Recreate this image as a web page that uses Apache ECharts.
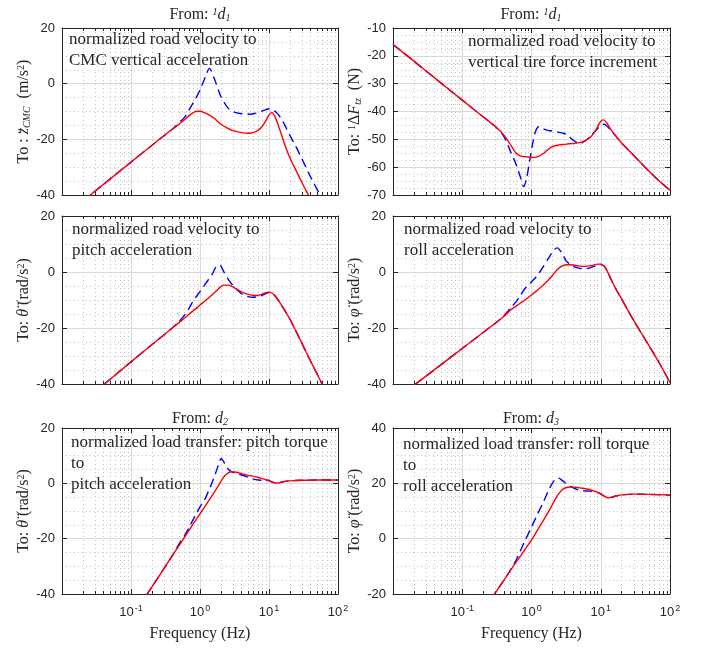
<!DOCTYPE html>
<html>
<head>
<meta charset="utf-8">
<script src="https://cdn.jsdelivr.net/npm/echarts@6/dist/echarts.min.js"></script>
<style>
html, body { margin: 0; padding: 0; background: #fff; }
#chart { width: 705px; height: 652px; }
</style>
</head>
<body>
<div id="chart"></div>
<script>
// ---- data (frequency in Hz, magnitude) ----
const p1Freq = [0.02, 0.05, 0.1, 0.2, 0.3, 0.4, 0.5, 0.6, 0.7, 0.8, 0.9, 1.0, 1.2, 1.37, 1.6, 2, 2.5, 3, 4, 5, 6, 7, 8, 9, 10, 11, 12, 13, 15, 17, 20, 25, 30, 40, 55, 70, 100];
const p1Red  = [-42.2, -34.2, -28.2, -22.2, -18.7, -16.3, -14.5, -12.9, -11.4, -10.4, -9.9, -9.9, -10.6, -11.3, -12.4, -14.6, -16.0, -16.9, -17.6, -17.8, -17.5, -16.7, -15.3, -13.3, -11.2, -10.3, -11.5, -13.5, -18.0, -22.0, -26.5, -31.5, -35.5, -41.5, -48.5, -54, -61];
const p1Blue = [-42.2, -34.2, -28.2, -22.2, -18.7, -16.3, -14.0, -12.0, -9.2, -6.8, -4.5, -2.3, 2.5, 5.5, 2.0, -4.5, -8.5, -10.0, -10.8, -11.0, -10.8, -10.4, -9.8, -9.3, -9.0, -9.2, -9.8, -10.5, -12.5, -15.0, -18.5, -23.0, -27.0, -33.5, -40.0, -45.0, -52.0];

const p2Freq = [0.01, 0.02, 0.05, 0.1, 0.2, 0.3, 0.4, 0.5, 0.6, 0.7, 0.77, 0.85, 0.95, 1.05, 1.15, 1.28, 1.5, 1.7, 2, 2.5, 3, 3.5, 4, 5, 6, 7, 8, 9, 10, 11, 12, 14, 17, 20, 30, 50, 70, 100];
const p2Red  = [-15.9, -21.9, -29.9, -35.9, -41.9, -45.4, -48.5, -52.0, -55.0, -56.0, -56.2, -56.3, -56.4, -56.5, -56.4, -56.0, -55.0, -53.8, -52.6, -52.0, -51.8, -51.6, -51.5, -51.2, -50.5, -49.3, -47.8, -45.5, -43.5, -43.0, -43.8, -46.5, -49.2, -51.3, -55.8, -61.5, -65.0, -68.3];
const p2Blue = [-15.9, -21.9, -29.9, -35.9, -41.9, -45.4, -49.0, -54.5, -59.0, -64.0, -67.0, -64.0, -57.0, -51.0, -47.0, -45.5, -46.3, -46.8, -47.0, -47.5, -48.0, -49.0, -50.3, -51.5, -50.5, -49.0, -47.5, -46.2, -45.0, -44.6, -45.0, -46.8, -49.2, -51.3, -55.8, -61.5, -65.0, -68.3];

const p3Freq = [0.02, 0.05, 0.1, 0.2, 0.3, 0.4, 0.5, 0.6, 0.7, 0.8, 0.9, 1.0, 1.2, 1.5, 1.8, 1.95, 2.2, 2.6, 3, 3.5, 4, 5, 6, 7, 8, 9, 10, 11, 12, 14, 17, 20, 25, 30, 40, 50, 60, 100];
const p3Red  = [-46.3, -38.3, -32.1, -26.0, -22.5, -19.9, -18.0, -16.4, -15.0, -13.8, -12.8, -11.8, -10.2, -8.1, -6.3, -5.5, -4.7, -4.7, -5.3, -6.3, -7.1, -8.0, -8.4, -8.3, -7.9, -7.4, -7.2, -7.5, -8.3, -10.5, -13.8, -16.8, -21.5, -25.5, -31.8, -36.5, -40.5, -51.0];
const p3Blue = [-46.3, -38.3, -32.1, -26.0, -22.5, -19.9, -17.6, -15.3, -12.8, -10.2, -8.5, -7.0, -4.2, -0.8, 2.3, 2.3, 0.2, -2.8, -4.8, -6.5, -7.8, -8.8, -9.0, -8.8, -8.3, -7.7, -7.3, -7.5, -8.3, -10.5, -13.8, -16.8, -21.5, -25.5, -31.8, -36.5, -40.5, -51.0];

const p4Freq = [0.01, 0.02, 0.05, 0.1, 0.2, 0.3, 0.4, 0.5, 0.6, 0.7, 0.8, 1.0, 1.2, 1.4, 1.8, 2.1, 2.35, 2.7, 3.2, 3.6, 4, 5, 6, 7, 8, 9, 10, 11, 12, 14, 17, 20, 25, 30, 40, 50, 70, 100];
const p4Red  = [-46.3, -40.5, -33.0, -27.3, -21.6, -18.3, -15.8, -13.6, -12.2, -11.0, -10.0, -8.2, -6.6, -5.2, -2.6, -0.6, 0.8, 2.0, 2.6, 2.6, 2.5, 2.1, 2.0, 2.2, 2.5, 2.8, 2.8, 2.2, 1.0, -2.5, -6.6, -9.6, -14.0, -17.4, -22.5, -26.4, -32.5, -39.5];
const p4Blue = [-46.3, -40.5, -33.0, -27.3, -21.6, -18.3, -15.6, -12.8, -10.6, -8.2, -6.0, -3.5, -1.4, 1.0, 5.3, 7.8, 8.6, 7.0, 3.8, 2.8, 2.0, 1.3, 1.2, 1.5, 2.0, 2.4, 2.7, 2.2, 1.0, -2.5, -6.6, -9.6, -14.0, -17.4, -22.5, -26.4, -32.5, -39.5];

const p5Freq = [0.1, 0.15, 0.2, 0.3, 0.4, 0.5, 0.6, 0.7, 0.8, 0.9, 1.0, 1.16, 1.4, 1.7, 1.9, 2.03, 2.3, 2.6, 2.84, 3.2, 3.5, 4, 5, 6, 7, 8, 9, 10, 11, 12, 13.5, 15, 18, 24, 30, 50, 100];
const p5Red  = [-49.0, -42.3, -37.5, -30.8, -26.0, -22.4, -19.4, -16.8, -14.6, -12.7, -11.0, -8.6, -5.5, -2.3, -0.3, 0.9, 2.8, 3.9, 4.2, 4.1, 3.9, 3.5, 2.9, 2.5, 2.1, 1.7, 1.3, 1.0, 0.5, 0.2, 0.1, 0.4, 0.8, 1.0, 1.1, 1.2, 1.2];
const p5Blue = [-49.0, -42.3, -37.5, -30.8, -26.0, -21.8, -18.8, -15.8, -13.0, -10.6, -8.5, -6.0, -1.5, 4.0, 7.5, 9.0, 7.0, 5.0, 4.2, 3.7, 3.4, 3.0, 2.2, 1.5, 1.2, 1.1, 1.0, 1.0, 0.5, 0.2, 0.1, 0.4, 0.8, 1.0, 1.1, 1.2, 1.2];

const p6Freq = [0.2, 0.29, 0.4, 0.5, 0.6, 0.7, 0.8, 1.0, 1.2, 1.5, 1.82, 2.1, 2.4, 2.8, 3.2, 3.6, 4.5, 5.5, 7, 8.6, 10, 11.5, 12.8, 14.5, 17, 22, 30, 50, 100];
const p6Red  = [-26.0, -20.1, -15.0, -11.4, -8.5, -6.1, -4.0, -0.5, 2.8, 6.8, 10.4, 13.3, 15.8, 17.8, 18.5, 18.7, 18.5, 18.2, 17.7, 17.0, 16.2, 15.2, 14.8, 15.0, 15.5, 15.9, 16.1, 16.0, 15.8];
const p6Blue = [-26.0, -20.1, -15.0, -11.2, -7.7, -4.1, -0.9, 4.2, 8.5, 13.5, 18.2, 20.8, 22.0, 21.0, 19.8, 19.0, 17.8, 17.3, 17.2, 16.8, 16.2, 15.2, 14.8, 15.0, 15.5, 15.9, 16.1, 16.0, 15.8];

// y axis ranges per panel
const yMin  = [-40, -70, -40, -40, -40, -20];
const yMax  = [20, -10, 20, 20, 20, 40];
const yStep = [20, 10, 20, 20, 20, 20];
const xMin = 0.01, xMax = 100;

const panels = [
    [p1Freq, p1Red, p1Blue], [p2Freq, p2Red, p2Blue],
    [p3Freq, p3Red, p3Blue], [p4Freq, p4Red, p4Blue],
    [p5Freq, p5Red, p5Blue], [p6Freq, p6Red, p6Blue]
];

const SERIF = '"Liberation Serif", "Times New Roman", serif';
const SANS = '"Liberation Sans", Arial, sans-serif';
const INK = '#262626';

const grids = [
    {left: 62, top: 28, width: 276, height: 167},
    {left: 393, top: 28, width: 277, height: 167},
    {left: 62, top: 216, width: 276, height: 168},
    {left: 393, top: 216, width: 277, height: 168},
    {left: 62, top: 428, width: 276, height: 166},
    {left: 393, top: 428, width: 277, height: 166}
];

const nameRich = {
    t: {fontFamily: SERIF, fontSize: 16, color: INK},
    it: {fontFamily: SERIF, fontSize: 16, fontStyle: 'italic', color: INK},
    sub: {fontFamily: SERIF, fontSize: 10, fontStyle: 'italic', color: INK, verticalAlign: 'bottom', padding: [6, 0, 0, 0]},
    sup: {fontFamily: SERIF, fontSize: 10, color: INK, verticalAlign: 'top', padding: [0, 0, 6, 0]}
};
const yNames = [
    '{t|To : }{it|z\u0308}{sub|CMC}{t|  (m/s}{sup|2}{t|)}',
    '{t|To: }{sup|1}{t|\u0394}{it|F}{sub|tz}{t|  (N)}',
    '{t|To: }{it|\u03b8\u0308}{t| (rad/s}{sup|2}{t|)}',
    '{t|To: }{it|\u03c6\u0308}{t| (rad/s}{sup|2}{t|)}',
    '{t|To: }{it|\u03b8\u0308}{t| (rad/s}{sup|2}{t|)}',
    '{t|To: }{it|\u03c6\u0308}{t| (rad/s}{sup|2}{t|)}'
];

const majorGrid = {show: true, lineStyle: {color: '#dadada', width: 1}};
const minorGrid = {show: true, lineStyle: {color: '#c4c4c4', width: 1, type: [1, 3]}};
const boxLine = {show: true, onZero: false, lineStyle: {color: INK, width: 1}};

let xAxes = [], yAxes = [], series = [];
panels.forEach(function (p, i) {
    const bottomRow = i >= 4;
    xAxes.push({
        type: 'log', gridIndex: i, min: xMin, max: xMax, logBase: 10,
        axisLine: boxLine,
        axisTick: {show: true, inside: true, length: 5, lineStyle: {color: INK}},
        minorTick: {show: true, splitNumber: 9, length: 3, lineStyle: {color: INK}},
        splitLine: majorGrid, minorSplitLine: minorGrid,
        axisLabel: {
            show: bottomRow, margin: 10,
            formatter: function (v) {
                const e = Math.round(Math.log10(v));
                if (Math.abs(Math.log10(v) - e) > 1e-6 || e < -1) return '';
                return '{b|10}{s|' + e + '}';
            },
            rich: {
                b: {fontFamily: SANS, fontSize: 13, color: INK},
                s: {fontFamily: SANS, fontSize: 9, color: INK, verticalAlign: 'top', padding: [0, 0, 7, 1]}
            }
        },
        name: bottomRow ? 'Frequency (Hz)' : '',
        nameLocation: 'middle', nameGap: 32,
        nameTextStyle: {fontFamily: SERIF, fontSize: 16, color: INK}
    });
    xAxes.push({
        type: 'log', gridIndex: i, min: xMin, max: xMax, position: 'top',
        axisLine: boxLine,
        axisTick: {show: true, inside: true, length: 5, lineStyle: {color: INK}},
        minorTick: {show: true, splitNumber: 9, length: 3, lineStyle: {color: INK}},
        splitLine: {show: false}, axisLabel: {show: false}
    });
    yAxes.push({
        type: 'value', gridIndex: i, min: yMin[i], max: yMax[i], interval: yStep[i],
        axisLine: boxLine,
        axisTick: {show: true, inside: true, length: 5, lineStyle: {color: INK}},
        splitLine: majorGrid,
        minorTick: {show: false, splitNumber: 4},
        minorSplitLine: minorGrid,
        axisLabel: {fontFamily: SANS, fontSize: 13, color: INK, margin: 7},
        name: yNames[i], nameLocation: 'middle', nameGap: 30, nameRotate: 90,
        nameTextStyle: {rich: nameRich}
    });
    yAxes.push({
        type: 'value', gridIndex: i, min: yMin[i], max: yMax[i], interval: yStep[i], position: 'right',
        axisLine: boxLine,
        axisTick: {show: true, inside: true, length: 5, lineStyle: {color: INK}},
        splitLine: {show: false}, axisLabel: {show: false}
    });

    const freq = p[0];
    series.push({
        type: 'line', xAxisIndex: 2 * i, yAxisIndex: 2 * i,
        data: freq.map(function (f, k) { return [f, p[2][k]]; }),
        showSymbol: false, smooth: 0.3, clip: true, silent: true,
        lineStyle: {color: '#0000ff', width: 1.4, type: [9, 5]}
    });
    series.push({
        type: 'line', xAxisIndex: 2 * i, yAxisIndex: 2 * i,
        data: freq.map(function (f, k) { return [f, p[1][k]]; }),
        showSymbol: false, smooth: 0.3, clip: true, silent: true,
        lineStyle: {color: '#ff0000', width: 1.4}
    });
});

// titles and in-plot notes
const titleRich = {
    a: {fontFamily: SERIF, fontSize: 16, fill: INK},
    it: {fontFamily: SERIF, fontSize: 16, fontStyle: 'italic', fill: INK},
    sup: {fontFamily: SERIF, fontSize: 10, fontStyle: 'italic', fill: INK, verticalAlign: 'top', padding: [0, 0, 6, 0]},
    sub: {fontFamily: SERIF, fontSize: 10, fontStyle: 'italic', fill: INK, verticalAlign: 'bottom', padding: [6, 0, 0, 0]}
};
function titleText(x, y, txt) {
    return {type: 'text', x: x, y: y, z: 100, style: {text: txt, textAlign: 'center', textVerticalAlign: 'middle', rich: titleRich, fill: INK}};
}
function note(x, y, txt) {
    return {type: 'text', x: x, y: y, z: 100, style: {text: txt, fontFamily: SERIF, fontSize: 17, lineHeight: 21, fill: INK}};
}

const option = {
    animation: false,
    backgroundColor: '#fff',
    grid: grids,
    xAxis: xAxes,
    yAxis: yAxes,
    series: series,
    graphic: [
        titleText(200, 15, '{a|From: }{sup|1}{it|d}{sub|1}'),
        titleText(531, 15, '{a|From: }{sup|1}{it|d}{sub|1}'),
        titleText(200, 419, '{a|From: }{it|d}{sub|2}'),
        titleText(531, 419, '{a|From: }{it|d}{sub|3}'),
        note(69, 29, 'normalized road velocity to\nCMC vertical acceleration'),
        note(468, 31, 'normalized road velocity to\nvertical tire force increment'),
        note(72, 219, 'normalized road velocity to\npitch acceleration'),
        note(404, 219, 'normalized road velocity to\nroll acceleration'),
        note(71, 432, 'normalized load transfer: pitch torque\nto\npitch acceleration'),
        note(403, 434, 'normalized load transfer: roll torque\nto\nroll acceleration')
    ]
};

const chart = echarts.init(document.getElementById('chart'), null, {renderer: 'canvas'});
chart.setOption(option);
</script>
</body>
</html>
